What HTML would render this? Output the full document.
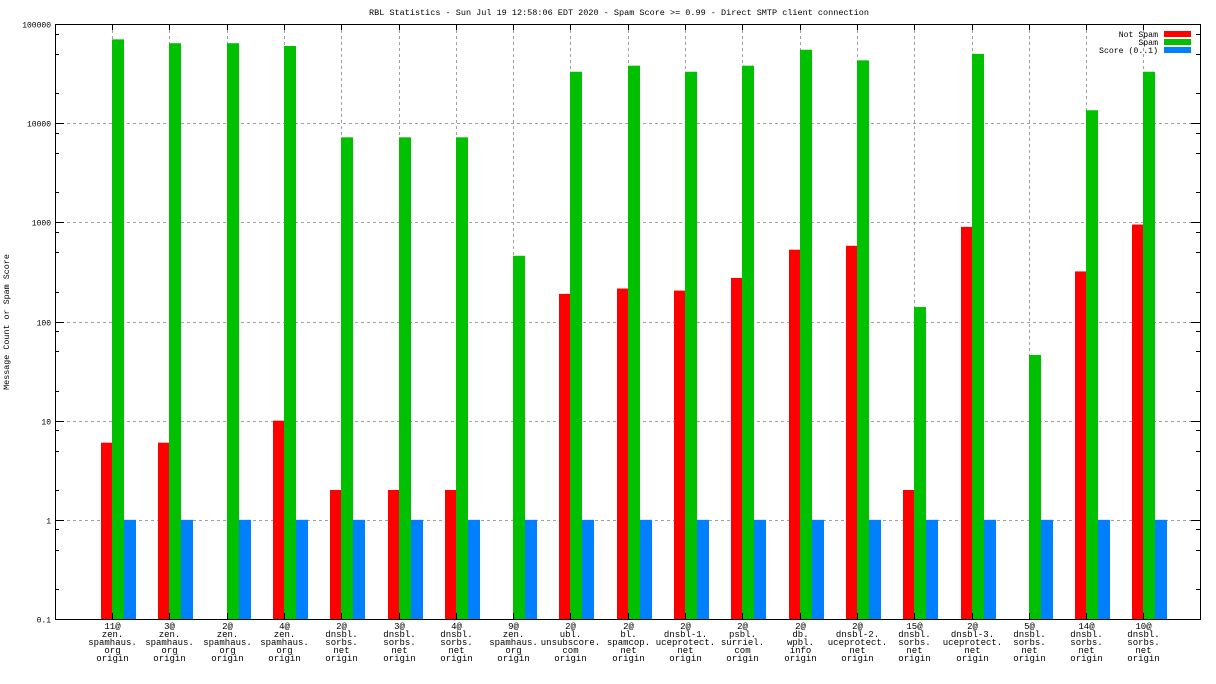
<!DOCTYPE html>
<html><head><meta charset="utf-8">
<style>
html,body{margin:0;padding:0;background:#fff;}
svg{display:block;font-family:"Liberation Mono","DejaVu Sans Mono",monospace;}
</style></head>
<body>
<svg id="chart" width="1216" height="684" viewBox="0 0 1216 684">
<text x="619" y="15" font-size="8.5" text-anchor="middle">RBL Statistics - Sun Jul 19 12:58:06 EDT 2020 - Spam Score &gt;= 0.99 - Direct SMTP client connection</text>
<text transform="translate(9,322) rotate(-90)" font-size="8.4" text-anchor="middle">Message Count or Spam Score</text>
<g id="grid"></g>
<g id="bars"></g>
<g id="axes"></g>
<g id="legend">
<text x="1158" y="37" font-size="8.2" text-anchor="end">Not Spam</text>
<rect x="1164" y="31" width="27" height="6" fill="#ff0000"/>
<text x="1158" y="45" font-size="8.2" text-anchor="end">Spam</text>
<rect x="1164" y="39" width="27" height="6" fill="#00c000"/>
<text x="1158" y="53" font-size="8.2" text-anchor="end">Score (0..1)</text>
<rect x="1164" y="47" width="27" height="6" fill="#0080ff"/>
</g>
</svg>
<script>
const categories = [
 ["11@","zen.","spamhaus.","org","origin"],
 ["3@","zen.","spamhaus.","org","origin"],
 ["2@","zen.","spamhaus.","org","origin"],
 ["4@","zen.","spamhaus.","org","origin"],
 ["2@","dnsbl.","sorbs.","net","origin"],
 ["3@","dnsbl.","sorbs.","net","origin"],
 ["4@","dnsbl.","sorbs.","net","origin"],
 ["9@","zen.","spamhaus.","org","origin"],
 ["2@","ubl.","unsubscore.","com","origin"],
 ["2@","bl.","spamcop.","net","origin"],
 ["2@","dnsbl-1.","uceprotect.","net","origin"],
 ["2@","psbl.","surriel.","com","origin"],
 ["2@","db.","wpbl.","info","origin"],
 ["2@","dnsbl-2.","uceprotect.","net","origin"],
 ["15@","dnsbl.","sorbs.","net","origin"],
 ["2@","dnsbl-3.","uceprotect.","net","origin"],
 ["5@","dnsbl.","sorbs.","net","origin"],
 ["14@","dnsbl.","sorbs.","net","origin"],
 ["10@","dnsbl.","sorbs.","net","origin"]
];
const notSpam = [6,6,null,10,2,2,2,null,190,215,205,275,530,580,2,900,null,320,950];
const spam = [70000,64000,64000,60000,7200,7200,7200,460,33000,38000,33000,38000,55000,43000,140,50000,46,13500,33000];
const score = [1,1,1,1,1,1,1,1,1,1,1,1,1,1,1,1,1,1,1];
const yTicks = [0.1,1,10,100,1000,10000,100000];
const yTickLabels = ["0.1","1","10","100","1000","10000","100000"];

const NS="http://www.w3.org/2000/svg";
const L=55,R=1200,T=24,B=619;
const yMin=-1,yMax=5;
function yScale(v){return B-(Math.log10(v)-yMin)/(yMax-yMin)*(B-T);}
function xScale(i){return 112+i*57.3;}
function mk(tag,attrs,parent){const e=document.createElementNS(NS,tag);for(const k in attrs)e.setAttribute(k,attrs[k]);parent.appendChild(e);return e;}
const grid=document.getElementById('grid'),bars=document.getElementById('bars'),axes=document.getElementById('axes');

yTicks.forEach((v,i)=>{
  const y=Math.round(yScale(v))+0.5;
  if(i>0&&i<yTicks.length-1){
    const g=mk('line',{x1:L,x2:R,y1:y,y2:y,stroke:'#a0a0a0','stroke-dasharray':'3,3'},grid);
    
    
  }
  mk('line',{x1:L,x2:L+9,y1:y,y2:y,stroke:'#000'},axes);
  mk('line',{x1:R-9,x2:R,y1:y,y2:y,stroke:'#000'},axes);
  const t=mk('text',{x:L-4,y:y+3,'font-size':8,'text-anchor':'end'},axes);
  t.textContent=yTickLabels[i];
  
  
  if(i<yTicks.length-1){
    [2,5,8].forEach(m=>{
      const ym=Math.round(yScale(v*m))+0.5;
      mk('line',{x1:L,x2:L+4,y1:ym,y2:ym,stroke:'#000'},axes);
      mk('line',{x1:R-4,x2:R,y1:ym,y2:ym,stroke:'#000'},axes);
    });
  }
});

categories.forEach((c,i)=>{
  const x=Math.round(xScale(i))+0.5;
  const g=mk('line',{x1:x,x2:x,y1:T,y2:B,stroke:'#a0a0a0','stroke-dasharray':'3,3'},grid);
  
  
  mk('line',{x1:x,x2:x,y1:B,y2:B-6,stroke:'#000'},axes);
  mk('line',{x1:x,x2:x,y1:T,y2:T+6,stroke:'#000'},axes);
  const t=mk('text',{'font-size':9,'text-anchor':'middle'},axes);
  
  
  c.forEach((line,k)=>{const s=mk('tspan',{x:x,y:629+k*8},t);s.textContent=line;});
  const cx=Math.round(xScale(i));
  const series=[[notSpam,'#ff0000',cx-11,11,'bar-not-spam'],[spam,'#00c000',cx,12,'bar-spam'],[score,'#0080ff',cx+12,12,'bar-score']];
  series.forEach(([arr,col,bx,w,nm])=>{
    const v=arr[i];
    if(v==null||v<=0)return;
    const y=yScale(v);
    const r=mk('rect',{x:bx,y:y,width:w,height:B-y,fill:col},bars);
    
    
  });
});
const frame=mk('rect',{x:L+0.5,y:T+0.5,width:R-L,height:B-T,fill:'none',stroke:'#000'},axes);


</script>
</body></html>
